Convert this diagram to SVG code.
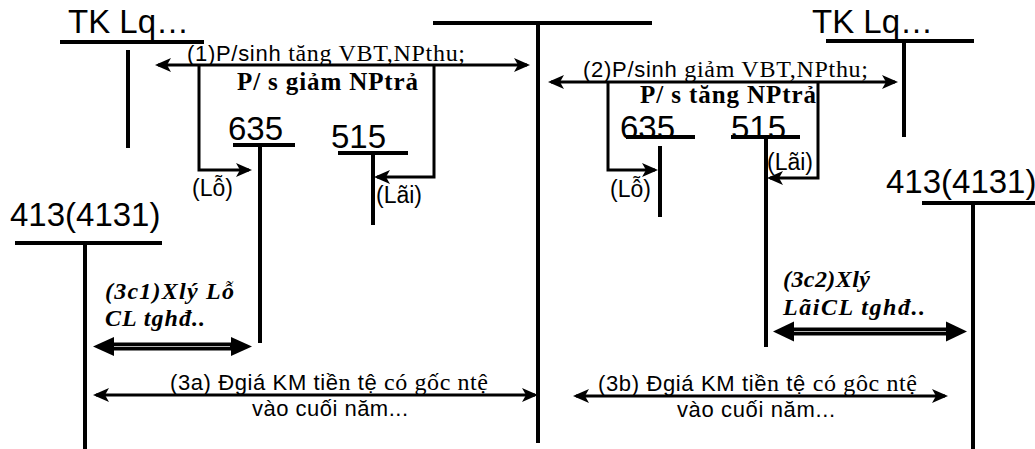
<svg xmlns="http://www.w3.org/2000/svg" width="1035" height="449" viewBox="0 0 1035 449">
  <style>
    .acct { font-family: "Liberation Sans", Arial, sans-serif; font-size: 33px; fill: #000; }
    .sans { font-family: "Liberation Sans", Arial, sans-serif; fill: #000; }
    .serif { font-family: "Liberation Serif", "Times New Roman", serif; font-size: 24px; fill: #000; }
    .lbl { font-size: 22px; }
    .small { font-size: 23px; }
    .bold { font-family: "Liberation Serif", "Times New Roman", serif; font-weight: bold; font-size: 25px; fill: #000; }
    .bi { font-family: "Liberation Serif", "Times New Roman", serif; font-weight: bold; font-style: italic; font-size: 24px; fill: #000; }
    .t { stroke: #000; stroke-width: 4; fill: none; }
    .c { stroke: #000; stroke-width: 3; fill: none; }
    .arr2 { marker-start: url(#head); marker-end: url(#head); }
    .arr1 { marker-end: url(#head); }
  </style>
  <defs>
    <marker id="head" viewBox="0 0 16 14" refX="13" refY="7" markerWidth="16" markerHeight="14" markerUnits="userSpaceOnUse" orient="auto-start-reverse">
      <path d="M0,0 L16,7 L0,14 L4,7 z" fill="#000"/>
    </marker>
  </defs>

  <!-- T-accounts -->
  <g id="tk-lq-left">
    <text class="acct" x="68" y="33">TK Lq…</text>
    <line class="t" x1="60" y1="42" x2="204" y2="42"/>
    <line class="t" x1="128" y1="50" x2="128" y2="148"/>
  </g>
  <g id="tk-main">
    <line class="t" x1="433" y1="23" x2="652" y2="23"/>
    <line class="t" x1="538" y1="23" x2="538" y2="443"/>
  </g>
  <g id="tk-lq-right">
    <text class="acct" x="812" y="33">TK Lq…</text>
    <line class="t" x1="826" y1="41" x2="974" y2="41"/>
    <line class="t" x1="904" y1="41" x2="904" y2="137"/>
  </g>
  <g id="tk-635-left">
    <text class="acct" x="228" y="140">635</text>
    <line class="t" x1="233" y1="145" x2="295" y2="145"/>
    <line class="t" x1="260" y1="145" x2="260" y2="343"/>
  </g>
  <g id="tk-515-left">
    <text class="acct" x="331" y="148">515</text>
    <line class="t" x1="338" y1="153" x2="408" y2="153"/>
    <line class="t" x1="373" y1="153" x2="373" y2="225"/>
  </g>
  <g id="tk-413-left">
    <text class="acct" x="10" y="226">413(4131)</text>
    <line class="t" x1="15" y1="243" x2="162" y2="243"/>
    <line class="t" x1="85" y1="243" x2="85" y2="449"/>
  </g>
  <g id="tk-635-right">
    <text class="acct" x="620" y="139">635</text>
    <line class="t" x1="626" y1="137" x2="695" y2="137"/>
    <line class="t" x1="660" y1="146" x2="660" y2="217"/>
  </g>
  <g id="tk-515-right">
    <text class="acct" x="731" y="139">515</text>
    <line class="t" x1="731" y1="137" x2="800" y2="137"/>
    <line class="t" x1="766" y1="137" x2="766" y2="347"/>
  </g>
  <g id="tk-413-right">
    <text class="acct" x="886" y="193">413(4131)</text>
    <line class="t" x1="922" y1="203" x2="1035" y2="203"/>
    <line class="t" x1="973" y1="203" x2="973" y2="449"/>
  </g>

  <!-- connectors -->
  <g id="connectors">
    <line class="c arr2" x1="158" y1="65" x2="527" y2="65"/>
    <polyline class="c arr1" points="199,65 199,170 249,170"/>
    <polyline class="c arr1" points="434,65 434,177 377,177"/>

    <line class="c arr2" x1="551" y1="82" x2="895" y2="82"/>
    <polyline class="c arr1" points="608,82 608,170 655,170"/>
    <polyline class="c arr1" points="818,82 818,178 770,178"/>

    <line class="c arr2" x1="96" y1="395" x2="535" y2="395"/>
    <line class="c arr2" x1="576" y1="396" x2="945" y2="396"/>

    <!-- double-line arrows -->
    <g id="xly-loss">
      <rect x="110" y="342.5" width="122" height="8" fill="#000"/>
      <line x1="112" y1="346.5" x2="230" y2="346.5" stroke="#fff" stroke-width="0.7"/>
      <path d="M93,346.5 L114,337 L114,356 z" fill="#000"/>
      <path d="M252,346.5 L231,337 L231,356 z" fill="#000"/>
    </g>
    <g id="xly-gain">
      <rect x="790" y="327.5" width="160" height="8" fill="#000"/>
      <line x1="792" y1="331.5" x2="948" y2="331.5" stroke="#fff" stroke-width="0.7"/>
      <path d="M773,331.5 L794,321.5 L794,341.5 z" fill="#000"/>
      <path d="M967,331.5 L946,321.5 L946,341.5 z" fill="#000"/>
    </g>
  </g>

  <!-- labels -->
  <g id="labels">
    <text x="187" y="61" class="lbl" textLength="278"><tspan class="sans">(1)P/sinh </tspan><tspan class="serif">tăng VBT,NPthu;</tspan></text>
    <text class="bold" x="237" y="90" textLength="181">P/ s giảm NPtrả</text>
    <text class="sans small" x="192" y="196">(Lỗ)</text>
    <text class="sans small" x="376" y="203">(Lãi)</text>

    <text x="583" y="77" class="lbl" textLength="285"><tspan class="sans">(2)P/sinh </tspan><tspan class="serif">giảm VBT,NPthu;</tspan></text>
    <text class="bold" x="640" y="103" textLength="176">P/ s tăng NPtrả</text>
    <text class="sans small" x="610" y="197">(Lỗ)</text>
    <text class="sans small" x="767" y="170">(Lãi)</text>

    <text class="bi" x="105" y="299" textLength="129">(3c1)Xlý Lỗ</text>
    <text class="bi" x="105" y="326" textLength="100">CL tghđ..</text>
    <text class="bi" x="783" y="287" textLength="87">(3c2)Xlý</text>
    <text class="bi" x="783" y="315" textLength="142">LãiCL tghđ..</text>

    <text x="170" y="390" class="lbl" textLength="318"><tspan class="sans">(3a) Đgiá KM tiề</tspan><tspan class="serif">n </tspan><tspan class="sans">tệ </tspan><tspan class="serif">có gốc ntệ</tspan></text>
    <text class="sans lbl" x="252" y="416" textLength="156">vào cuối năm...</text>
    <text x="598" y="391" class="lbl" textLength="319"><tspan class="sans">(3b) Đgiá KM tiề</tspan><tspan class="serif">n </tspan><tspan class="sans">tệ </tspan><tspan class="serif">có gôc ntệ</tspan></text>
    <text class="sans lbl" x="677" y="417" textLength="158">vào cuối năm...</text>
  </g>
</svg>
